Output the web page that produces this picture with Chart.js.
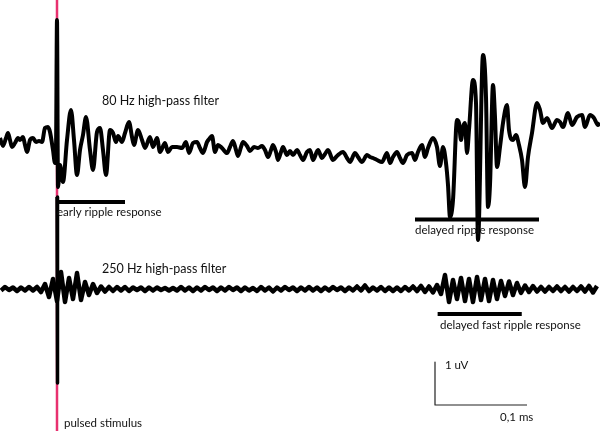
<!DOCTYPE html>
<html>
<head>
<meta charset="utf-8">
<script src="https://cdn.jsdelivr.net/npm/chart.js@4/dist/chart.umd.min.js"></script>
<style>
  html, body { margin: 0; padding: 0; background: #fff; }
  #wrap { width: 600px; height: 431px; }
</style>
</head>
<body>
<div id="wrap"><canvas id="chart" width="600" height="431"></canvas></div>
<script>
// time in us (stimulus at 0), amplitude in uV
const topTime = [
  -45.6, -43.2, -40.8, -39.2, -37.6, -36.0, -33.6, -31.2, -29.6, -27.2,
  -25.6, -24.0, -21.6, -19.2, -16.8, -14.4, -12.0, -9.6, -7.2, -5.6,
  -3.2, -1.6, -0.8, 0, 0.8, 2.4, 4.8, 8.0, 11.2, 13.6,
  16.0, 18.4, 20.8, 23.2, 26.4, 28.8, 32.0, 34.4, 36.8, 39.2,
  42.4, 44.8, 47.2, 48.8, 52.0, 54.4, 57.6, 60.0, 61.6, 64.8,
  68.0, 70.4, 74.4, 76.8, 80.0, 82.4, 86.4, 88.8, 92.0, 96.0,
  100.0, 103.2, 105.6, 108.8, 112.0, 114.4, 116.8, 120.0, 122.4, 124.0,
  126.4, 128.8, 132.0, 136.0, 138.4, 140.8, 143.2, 144.8, 147.2, 148.8,
  152.0, 154.4, 157.6, 160.8, 164.0, 166.4, 168.8, 171.2, 172.8, 175.2,
  176.8, 179.2, 180.8, 184.0, 186.4, 188.8, 192.0, 194.4, 196.8, 200.0,
  202.4, 204.8, 208.8, 212.0, 214.4, 216.8, 220.8, 224.0, 228.8, 232.0,
  234.4, 238.4, 240.8, 244.0, 248.0, 250.4, 252.8, 256.0, 260.0, 264.0,
  266.4, 268.8, 272.0, 274.4, 276.8, 280.0, 284.0, 286.4, 288.8, 292.0,
  294.4, 296.8, 300.8, 304.0, 306.4, 308.8, 311.2, 312.8, 314.4, 316.8,
  320.0, 321.6, 323.2, 324.8, 326.4, 328.0, 329.6, 332.8, 335.2, 336.8,
  340.8, 343.2, 344.8, 346.4, 348.8, 350.4, 352.0, 354.4, 356.8, 360.0,
  361.6, 364.8, 367.2, 369.6, 372.0, 374.4, 376.8, 380.0, 384.0, 386.4,
  388.8, 392.0, 396.0, 400.0, 402.4, 404.8, 408.8, 412.0, 416.0, 420.0,
  422.4, 426.4, 429.6, 432.8, 434.4
];
const topValues = [
  0.04, -0.12, 0.04, 0.14, 0, -0.14, -0.06, 0.04, 0, 0.06,
  -0.10, -0.24, 0, 0.04, -0.04, -0.02, -0.04, 0.24, 0.26, 0.16,
  -0.20, -0.46, -0.20, 2.40, -0.94, -0.50, -0.84, 0, 0.60, 0,
  -0.70, -0.20, 0.10, 0.46, -0.20, -0.60, 0.16, 0.24, -0.20, -0.70,
  0.20, 0.14, -0.04, 0.08, -0.04, 0.14, 0.36, 0.06, -0.10, 0.20,
  0, -0.16, 0.06, -0.14, 0.04, -0.24, -0.06, -0.24, -0.14, -0.14,
  -0.16, -0.04, -0.26, -0.06, -0.04, -0.16, -0.26, -0.04, 0.04, 0.08,
  -0.24, -0.10, -0.16, -0.26, -0.14, -0.02, -0.20, -0.32, -0.14, -0.04,
  -0.12, -0.22, -0.14, -0.16, -0.12, -0.20, -0.34, -0.20, -0.10, -0.24,
  -0.40, -0.24, -0.14, -0.30, -0.22, -0.30, -0.20, -0.30, -0.40, -0.24,
  -0.20, -0.40, -0.20, -0.36, -0.28, -0.20, -0.40, -0.32, -0.24, -0.36,
  -0.44, -0.26, -0.34, -0.44, -0.30, -0.34, -0.36, -0.40, -0.44, -0.26,
  -0.46, -0.34, -0.24, -0.36, -0.46, -0.30, -0.26, -0.40, -0.24, -0.10,
  -0.34, -0.16, 0.04, -0.14, -0.52, -0.14, -0.46, -0.90, -1.54, -1.20,
  0.40, 0.34, 0, 0.26, 0.34, -0.26, 0.20, 1.20, 0.74, -2.00,
  1.70, 0.86, -1.34, -0.90, 1.10, 0.46, -0.54, -0.14, 0.34, 0.70,
  0.20, 0, 0.10, -0.10, -0.40, -0.94, -0.34, 0.14, 0.74, 0.60,
  0.34, 0.44, 0.24, 0.40, 0.36, 0.26, 0.54, 0.30, 0.46, 0.50,
  0.26, 0.50, 0.44, 0.30, 0.34
];
const TOP_OFFSET = 2.98;

// 250 Hz trace, evenly sampled
const botStartUs = -44.8;
const botStepUs = 3.2;
const botValues = [
  -0.03, 0.04, -0.02, 0.03, -0.04, 0.03, -0.03, 0.04, -0.03, 0.04,
  -0.06, 0.10, -0.16, 0.20, -0.24, 0.34, -0.26, 0.22, -0.20, 0.32,
  -0.22, 0.14, -0.12, 0.10, -0.08, 0.05, -0.05, 0.04, -0.04, 0.04,
  -0.03, 0.04, -0.04, 0.03, -0.02, 0.03, -0.04, 0.03, -0.03, 0.03,
  -0.02, 0.02, -0.03, 0.02, -0.03, 0.04, -0.03, 0.03, -0.04, 0.03,
  -0.03, 0.04, -0.02, 0.03, -0.04, 0.03, -0.03, 0.04, -0.02, 0.03,
  -0.04, 0.03, -0.03, 0.02, -0.04, 0.04, -0.03, 0.03, -0.05, 0.03,
  -0.03, 0.04, -0.02, 0.03, -0.04, 0.03, -0.03, 0.04, -0.03, 0.03,
  -0.04, 0.03, -0.03, 0.04, -0.02, 0.03, -0.04, 0.03, -0.03, 0.05,
  -0.03, 0.07, -0.04, 0.03, -0.03, 0.04, -0.04, 0.03, -0.04, 0.03,
  -0.04, 0.04, -0.03, 0.05, -0.04, 0.06, -0.06, 0.05, -0.07, 0.08,
  -0.10, 0.28, -0.26, 0.18, -0.20, 0.22, -0.24, 0.20, -0.26, 0.24,
  -0.22, 0.20, -0.24, 0.18, -0.20, 0.16, -0.14, 0.15, -0.12, 0.12,
  -0.08, 0.07, -0.06, 0.06, -0.05, 0.04, -0.05, 0.04, -0.04, 0.05,
  -0.04, 0.04, -0.05, 0.04, -0.04, 0.05, -0.05, 0.06, -0.07, 0.06
];
// stimulus artifact in the 250 Hz trace
const artifactTime = [0, 0.4];
const artifactValues = [1.84, -1.88];

const topData = topTime.map((t, i) => ({ x: t, y: topValues[i] + TOP_OFFSET }));
const botData = botValues.map((v, i) => ({ x: botStartUs + i * botStepUs, y: v }));
const artData = artifactTime.map((t, i) => ({ x: t, y: artifactValues[i] }));

const seg = (x0, x1, y0, y1) => [{ x: x0, y: y0 }, { x: x1, y: y1 }];

const labels = [
  { text: '80 Hz high-pass filter', x: 36, y: 3.76, size: 12.5 },
  { text: 'early ripple response', x: 0, y: 1.54, size: 11.5 },
  { text: 'delayed ripple response', x: 286.4, y: 1.18, size: 11.5 },
  { text: '250 Hz high-pass filter', x: 36, y: 0.40, size: 12.5 },
  { text: 'delayed fast ripple response', x: 306.4, y: -0.72, size: 11.5 },
  { text: '1 uV', x: 310.4, y: -1.52, size: 11.5 },
  { text: '0,1 ms', x: 354.4, y: -2.56, size: 11.5 },
  { text: 'pulsed stimulus', x: 5.6, y: -2.68, size: 11.5 },
];

const textPlugin = {
  id: 'texts',
  afterDatasetsDraw(chart) {
    const { ctx, scales: { x, y } } = chart;
    ctx.save();
    ctx.fillStyle = '#111';
    ctx.textAlign = 'left';
    ctx.textBaseline = 'middle';
    labels.forEach(l => {
      ctx.font = l.size + 'px Lato, "Open Sans", sans-serif';
      ctx.fillText(l.text, x.getPixelForValue(l.x), y.getPixelForValue(l.y));
    });
    ctx.restore();
  }
};

const lineDs = (data, width, color, extra) => Object.assign({
  data, borderColor: color, borderWidth: width, pointRadius: 0,
  borderJoinStyle: 'round', borderCapStyle: 'butt', tension: 0, fill: false,
}, extra || {});

new Chart(document.getElementById('chart').getContext('2d'), {
  type: 'line',
  data: {
    datasets: [
      lineDs(topData, 4, '#000', { cubicInterpolationMode: 'monotone' }),
      lineDs(botData, 4.5, '#000'),
      lineDs(artData, 3.5, '#000'),
      lineDs(seg(0, 54.4, 1.74, 1.74), 4, '#000'),
      lineDs(seg(286.4, 385.6, 1.39, 1.39), 4, '#000'),
      lineDs(seg(304.5, 371.8, -0.5, -0.5), 4, '#000'),
      // scale bar
      lineDs([{ x: 302.4, y: -1.46 }, { x: 302.4, y: -2.32 }, { x: 376.0, y: -2.32 }], 1.2, '#222'),
      // pulsed stimulus marker
      lineDs(seg(0, 0, 5.78, -2.84), 2.5, '#e8306f', { order: 10 }),
    ]
  },
  options: {
    responsive: false,
    animation: false,
    events: [],
    layout: { padding: 0 },
    plugins: { legend: { display: false }, tooltip: { enabled: false } },
    scales: {
      x: { type: 'linear', display: false, min: -45.6, max: 434.4 },
      y: { type: 'linear', display: false, min: -2.84, max: 5.78 },
    },
  },
  plugins: [textPlugin],
});
</script>
</body>
</html>
